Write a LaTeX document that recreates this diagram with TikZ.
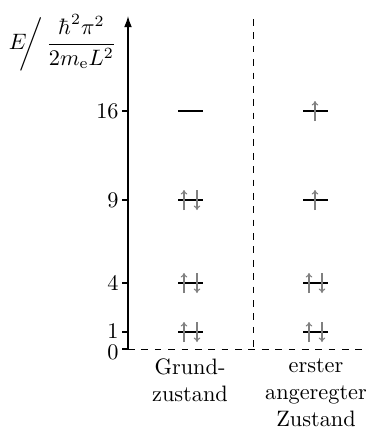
\documentclass[tikz,border=0pt]{standalone}
\usepackage{amsmath}
\usetikzlibrary{arrows.meta}

\begin{document}
\begin{tikzpicture}[
  x=0.4484pt, y=-0.4484pt,
  level/.style={line width=0.9pt},
  spin/.style={gray, line width=0.5pt, -{To[length=2pt,width=3pt]}},
  tick/.style={anchor=east, inner sep=0pt},
  state/.style={anchor=north, align=center}
]
\useasboundingbox (0,0) rectangle (366,427);
% axes
\coordinate (origin) at (128,349);
\coordinate (top) at (128,16);
\draw[-{Latex[length=5pt,width=3.5pt]}, line width=0.6pt] (origin) -- (top);
\draw[dashed, line width=0.4pt] (origin) -- (366,349);
\draw[dashed, line width=0.4pt] (253,19) -- (253,349);
\node[anchor=east, inner sep=0pt] (elabel) at (117,43)
  {$E\mkern-6mu\bigg/\mkern3mu\dfrac{\hbar^2\pi^2}{2m_\mathrm{e}L^2}$};
% ticks
\foreach \val/\ypos/\lpos in {0/349/352, 1/332/331, 4/283/283, 9/200/200, 16/111/111} {
  \draw[line width=0.5pt] (122,\ypos) -- (128,\ypos);
  \node[tick] (t\val) at (119,\lpos) {$\val$};
}
% ground state
\foreach \ypos in {332, 283, 200} {
  \draw[level] (178,\ypos) -- (203,\ypos);
  \draw[spin] (184,\ypos+10) -- (184,\ypos-10);
  \draw[spin] (197,\ypos-10) -- (197,\ypos+10);
}
\draw[level] (178,111) -- (203,111);
% first excited state
\foreach \ypos in {332, 283} {
  \draw[level] (303,\ypos) -- (328,\ypos);
  \draw[spin] (309,\ypos+10) -- (309,\ypos-10);
  \draw[spin] (322,\ypos-10) -- (322,\ypos+10);
}
\foreach \ypos in {200, 111} {
  \draw[level] (303,\ypos) -- (328,\ypos);
  \draw[spin] (315,\ypos+10) -- (315,\ypos-10);
}
% labels
\node[state] (grund) at (190,351) {Grund-\\zustand};
\node[state] (erster) at (316,351) {erster\\angeregter\\Zustand};
\end{tikzpicture}
\end{document}
